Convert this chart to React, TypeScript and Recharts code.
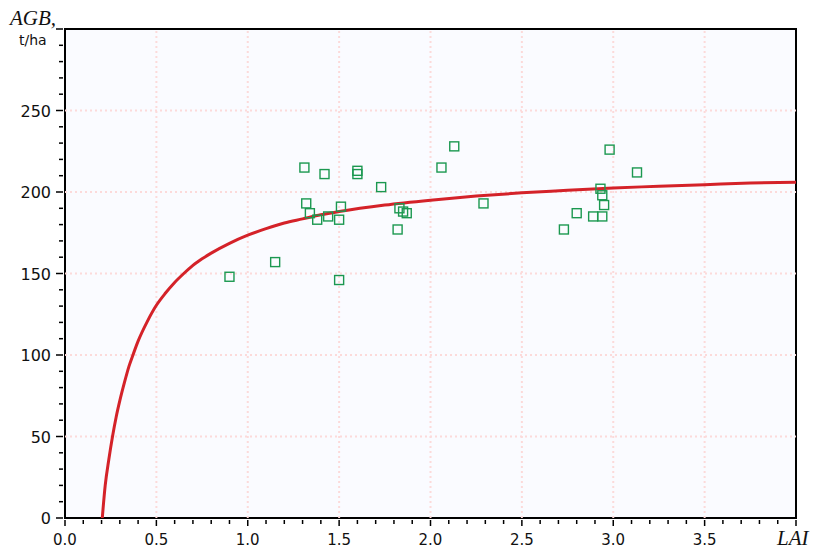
import {
  ComposedChart,
  Line,
  ReferenceArea,
  ReferenceLine,
  Scatter,
  XAxis,
  YAxis,
} from 'recharts'

// measured plots: leaf area index vs above-ground biomass
const plotLai = [
  0.9, 1.15, 1.31, 1.32, 1.34, 1.38, 1.42, 1.44, 1.5, 1.51, 1.5, 1.6, 1.6,
  1.73, 1.82, 1.83, 1.85, 1.87, 2.06, 2.13, 2.29, 2.73, 2.8, 2.89, 2.93,
  2.94, 2.95, 2.94, 2.98, 3.13,
]
const plotAgb = [
  148, 157, 215, 193, 187, 183, 211, 185, 183, 191, 146, 213, 211, 203, 177,
  190, 188, 187, 215, 228, 193, 177, 187, 185, 202, 198, 192, 185, 226, 212,
]

// fitted curve
const fitLai = [
  0.204, 0.22, 0.24, 0.26, 0.28, 0.3, 0.325, 0.35, 0.375, 0.4, 0.45, 0.5,
  0.55, 0.6, 0.65, 0.7, 0.75, 0.8, 0.9, 1.0, 1.1, 1.2, 1.3, 1.4, 1.5, 1.75,
  2.0, 2.25, 2.5, 2.75, 3.0, 3.25, 3.5, 3.75, 4.0,
]
const fitAgb = [
  0, 20, 36, 50, 62, 72, 83, 93, 101, 108.5, 120.5, 130.5, 138, 144.5, 150,
  155, 159, 162.5, 168.5, 173.5, 177.5, 181, 183.5, 186, 188, 192, 195, 197.5,
  199.5, 201, 202.5, 203.5, 204.5, 205.5, 206,
]

const xMajor = [0, 0.5, 1, 1.5, 2, 2.5, 3, 3.5, 4]
const xLabels = ['0.0', '0.5', '1.0', '1.5', '2.0', '2.5', '3.0', '3.5', '']
const yMajor = [0, 50, 100, 150, 200, 250, 300]
const yLabels = ['0', '50', '100', '150', '200', '250', '']

const xTicks = Array.from({ length: 41 }, (_, i) => Math.round(i * 10) / 100)
const yTicks = Array.from({ length: 31 }, (_, i) => i * 10)

const points = plotLai.map((lai, i) => ({ lai, agb: plotAgb[i] }))
const curve = fitLai.map((lai, i) => ({ lai, agb: fitAgb[i] }))

const tickFont = '"DejaVu Sans", sans-serif'
const gridColor = '#fcdada'

function XTick(props: any) {
  const { x, y, payload } = props
  const idx = xMajor.findIndex((v) => Math.abs(v - payload.value) < 1e-6)
  const major = idx >= 0
  return (
    <g>
      <line x1={x} x2={x} y1={y} y2={y + (major ? 6 : 4)} stroke="#000" strokeWidth={1.5} />
      {major && xLabels[idx] && (
        <text x={x} y={y + 25} textAnchor="middle" fontSize={15} fontFamily={tickFont} fill="#111">
          {xLabels[idx]}
        </text>
      )}
    </g>
  )
}

function YTick(props: any) {
  const { x, y, payload } = props
  const idx = yMajor.indexOf(payload.value)
  const major = idx >= 0
  return (
    <g>
      <line x1={x - (major ? 7 : 4)} x2={x} y1={y} y2={y} stroke="#000" strokeWidth={1.5} />
      {major && yLabels[idx] && (
        <text x={x - 12} y={y + 6} textAnchor="end" fontSize={16} fontFamily={tickFont} fill="#111">
          {yLabels[idx]}
        </text>
      )}
    </g>
  )
}

function Square(props: any) {
  const { cx, cy } = props
  if (cx == null || cy == null) return null
  return (
    <rect x={cx - 4.5} y={cy - 4.5} width={9} height={9} fill="none" stroke="#1b9850" strokeWidth={1.4} />
  )
}

export default function App() {
  return (
    <div style={{ position: 'absolute', left: 0, top: 0, width: 813, height: 549, background: '#fff' }}>
      <ComposedChart
        width={813}
        height={549}
        margin={{ top: 29, right: 17, bottom: 0, left: 0 }}
      >
        <ReferenceArea x1={0} x2={4} y1={0} y2={300} fill="#fafbff" fillOpacity={1} stroke="none" />
        {xMajor.slice(1, -1).map((v) => (
          <ReferenceLine key={'x' + v} x={v} stroke={gridColor} strokeWidth={2} strokeDasharray="2 3" />
        ))}
        {yMajor.slice(1, -1).map((v) => (
          <ReferenceLine key={'y' + v} y={v} stroke={gridColor} strokeWidth={2} strokeDasharray="2 3" />
        ))}
        <XAxis
          dataKey="lai"
          type="number"
          domain={[0, 4]}
          ticks={xTicks}
          interval={0}
          height={31}
          axisLine={false}
          tickLine={false}
          tickSize={0}
          tick={<XTick />}
          allowDataOverflow
        />
        <YAxis
          dataKey="agb"
          type="number"
          domain={[0, 300]}
          ticks={yTicks}
          interval={0}
          width={65}
          axisLine={false}
          tickLine={false}
          tickSize={0}
          tick={<YTick />}
          allowDataOverflow
        />
        <Line
          data={curve}
          dataKey="agb"
          type="monotone"
          stroke="#d42229"
          strokeWidth={3}
          dot={false}
          activeDot={false}
          isAnimationActive={false}
        />
        <Scatter data={points} dataKey="agb" shape={<Square />} isAnimationActive={false} />
        <ReferenceArea x1={0} x2={4} y1={0} y2={300} fill="none" stroke="#000" strokeWidth={2} />
      </ComposedChart>
      <div
        style={{
          position: 'absolute',
          left: 10,
          top: 6,
          fontFamily: '"Liberation Serif", serif',
          fontStyle: 'italic',
          fontSize: 21,
          lineHeight: '24px',
          color: '#111',
        }}
      >
        AGB,
      </div>
      <div
        style={{
          position: 'absolute',
          left: 19,
          top: 32,
          fontFamily: tickFont,
          fontSize: 14,
          lineHeight: '16px',
          color: '#111',
        }}
      >
        t/ha
      </div>
      <div
        style={{
          position: 'absolute',
          left: 777,
          top: 527,
          fontFamily: '"Liberation Serif", serif',
          fontStyle: 'italic',
          fontSize: 21,
          lineHeight: '22px',
          color: '#111',
        }}
      >
        LAI
      </div>
    </div>
  )
}
